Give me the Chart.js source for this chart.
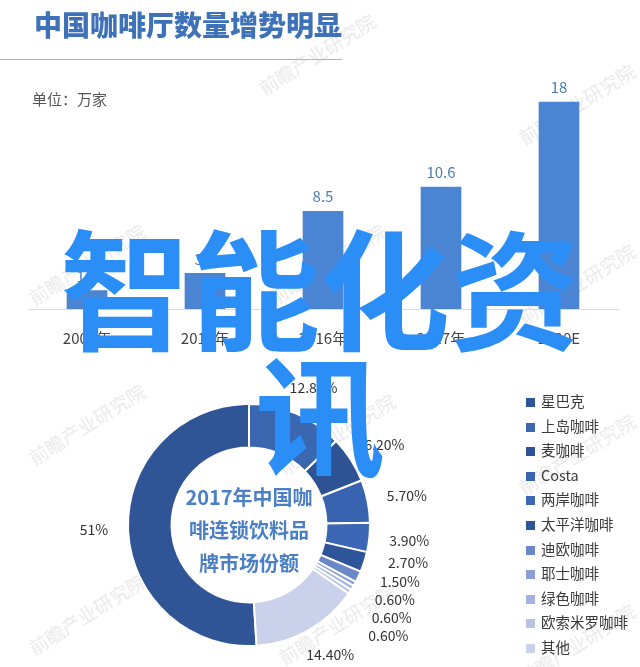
<!DOCTYPE html>
<html>
<head>
<meta charset="utf-8">
<script src="https://cdn.jsdelivr.net/npm/chart.js@4.4.1/dist/chart.umd.min.js"></script>
<style>
  html, body { margin: 0; padding: 0; background: #fff; }
  #page { position: relative; width: 640px; height: 667px; overflow: hidden; font-family: "Noto Sans CJK SC", "Noto Sans", sans-serif; }
  .abs { position: absolute; }
  #title { left: 34px; top: 4px; font-size: 28px; font-weight: 900; color: #3e72b8; white-space: nowrap; z-index: 3; }
  #rule { left: 0; top: 59px; width: 342px; height: 1px; background: #b3b3b3; z-index: 3; }
  #unit { left: 32px; top: 88px; font-size: 15px; color: #555; z-index: 3; }
  #barWrap { left: 0; top: 0; width: 640px; height: 381px; z-index: 2; }
  #pieWrap { left: 0; top: 380px; width: 640px; height: 287px; z-index: 2; }
  #legend { left: 526px; top: 390px; z-index: 3; }
  #legend div { height: 24.6px; line-height: 22px; font-size: 14.5px; color: #3a3a3a; white-space: nowrap; }
  #legend span { display: inline-block; width: 9px; height: 9px; margin-right: 6px; vertical-align: 0px; }
  .wm { color: #ebebeb; font-size: 19px; white-space: nowrap; transform: rotate(-32deg); z-index: 1; }
  #overlay { left: 25px; top: 220px; width: 590px; text-align: center; font-size: 130px; line-height: 126px; font-weight: 700; color: #2a8ef6; z-index: 5; }
</style>
</head>
<body>
<div id="page">
  <div class="abs wm" style="left:250px;top:40px;">前瞻产业研究院</div>
  <div class="abs wm" style="left:510px;top:90px;">前瞻产业研究院</div>
  <div class="abs wm" style="left:20px;top:250px;">前瞻产业研究院</div>
  <div class="abs wm" style="left:260px;top:250px;">前瞻产业研究院</div>
  <div class="abs wm" style="left:510px;top:270px;">前瞻产业研究院</div>
  <div class="abs wm" style="left:20px;top:410px;">前瞻产业研究院</div>
  <div class="abs wm" style="left:270px;top:420px;">前瞻产业研究院</div>
  <div class="abs wm" style="left:510px;top:440px;">前瞻产业研究院</div>
  <div class="abs wm" style="left:20px;top:600px;">前瞻产业研究院</div>
  <div class="abs wm" style="left:270px;top:610px;">前瞻产业研究院</div>
  <div class="abs wm" style="left:510px;top:630px;">前瞻产业研究院</div>

  <div id="title" class="abs">中国咖啡厅数量增势明显</div>
  <div id="rule" class="abs"></div>
  <div id="unit" class="abs">单位：万家</div>
  <div id="barWrap" class="abs"><canvas id="bar"></canvas></div>
  <div id="pieWrap" class="abs"><canvas id="pie"></canvas></div>
  <div id="legend" class="abs"></div>
  <div id="overlay" class="abs">智能化资讯</div>
</div>

<script>
// bar chart: coffee shop count (10k)
const years = ['2007年', '2012年', '2016年', '2017年', '2020E'];
const shopCounts = [1.6, 3.1, 8.5, 10.6, 18];

// doughnut: 2017 brand market share (%)
const brands = ['星巴克', '上岛咖啡', '麦咖啡', 'Costa', '两岸咖啡', '太平洋咖啡', '迪欧咖啡', '耶士咖啡', '绿色咖啡', '欧索米罗咖啡', '其他'];
const shares = [51, 12.8, 6.2, 5.7, 3.9, 2.7, 1.5, 0.6, 0.6, 0.6, 14.4];
const shareLabels = ['51%', '12.80%', '6.20%', '5.70%', '3.90%', '2.70%', '1.50%', '0.60%', '0.60%', '0.60%', '14.40%'];
const brandColors = ['#2f5597', '#3b66b0', '#2e5394', '#3763b0', '#3b67b4', '#2e5499', '#6a88c8', '#8a9fd2', '#a3b3de', '#b8c2e4', '#cbd1ea'];
const centerLines = ['2017年中国咖', '啡连锁饮料品', '牌市场份额'];

const FONT = '"Noto Sans CJK SC", "Noto Sans", sans-serif';

// value labels above bars
const barLabels = {
  id: 'barLabels',
  afterDatasetsDraw(chart) {
    const ctx = chart.ctx;
    const meta = chart.getDatasetMeta(0);
    ctx.save();
    ctx.font = '15px ' + FONT;
    ctx.fillStyle = '#4c7db4';
    ctx.textAlign = 'center';
    ctx.textBaseline = 'bottom';
    meta.data.forEach((bar, i) => {
      ctx.fillText(String(shopCounts[i]), bar.x, bar.y - 7);
    });
    ctx.restore();
  }
};

new Chart(document.getElementById('bar'), {
  type: 'bar',
  data: {
    labels: years,
    datasets: [{
      data: shopCounts,
      backgroundColor: '#4a84d2',
      borderWidth: 0,
      barThickness: 40
    }]
  },
  options: {
    responsive: true,
    maintainAspectRatio: false,
    animation: false,
    layout: { padding: { left: 28, right: 22, top: 79, bottom: 14 } },
    scales: {
      x: {
        grid: { display: false, drawTicks: false },
        border: { color: '#dcdcdc', width: 1 },
        ticks: { color: '#444', padding: 20, font: { family: FONT, size: 15 } }
      },
      y: { display: false, min: 0, max: 20 }
    },
    plugins: { legend: { display: false }, tooltip: { enabled: false } }
  },
  plugins: [barLabels]
});

// percentage labels outside the ring + centre title
const ringLabels = {
  id: 'ringLabels',
  afterDatasetsDraw(chart) {
    const ctx = chart.ctx;
    const meta = chart.getDatasetMeta(0);
    ctx.save();
    ctx.font = '14px ' + FONT;
    ctx.fillStyle = '#333';
    ctx.textAlign = 'center';
    ctx.textBaseline = 'middle';
    const boxes = [];
    meta.data.forEach((arc, i) => {
      const mid = (arc.startAngle + arc.endAngle) / 2;
      const dx = Math.cos(mid), dy = Math.sin(mid);
      const small = shares[i] < 3;
      const r = arc.outerRadius + (small ? 26 : 20);
      const w = ctx.measureText(shareLabels[i]).width;
      let x = arc.x + dx * r + dx * w / 2;
      let y = arc.y + dy * r + dy * 8 - (small ? 10 : 0);
      // push small-slice labels down so they don't collide
      boxes.forEach(b => {
        if (Math.abs(b.x - x) < (b.w + w) / 2 && Math.abs(b.y - y) < 18) y = b.y + 18;
      });
      boxes.push({ x, y, w });
      ctx.fillText(shareLabels[i], x, y);
    });
    // centre text
    const cx = meta.data[0].x, cy = meta.data[0].y;
    ctx.font = 'bold 20px ' + FONT;
    ctx.fillStyle = '#4a7fc6';
    centerLines.forEach((t, i) => ctx.fillText(t, cx, cy - 28 + i * 33));
    ctx.restore();
  }
};

new Chart(document.getElementById('pie'), {
  type: 'doughnut',
  data: {
    labels: brands,
    datasets: [{
      data: shares,
      backgroundColor: brandColors,
      borderColor: '#fff',
      borderWidth: 2
    }]
  },
  options: {
    responsive: true,
    maintainAspectRatio: false,
    animation: false,
    cutout: '64%',
    rotation: 360 * (100 - shares[0]) / 100,
    layout: { padding: { left: 127, right: 269, top: 23, bottom: 20 } },
    plugins: { legend: { display: false }, tooltip: { enabled: false } }
  },
  plugins: [ringLabels]
});

// html legend
const legendEl = document.getElementById('legend');
brands.forEach((b, i) => {
  const row = document.createElement('div');
  row.innerHTML = '<span style="background:' + brandColors[i] + '"></span>' + b;
  legendEl.appendChild(row);
});
</script>
</body>
</html>
